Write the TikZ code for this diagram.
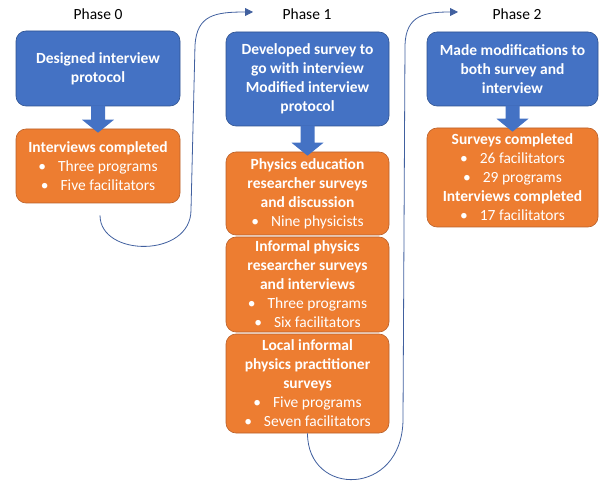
\documentclass[tikz,border=0pt]{standalone}
\usepackage{fontspec}
\setmainfont{Carlito}
\usetikzlibrary{calc,arrows.meta}

\definecolor{stepblue}{HTML}{4472C4}
\definecolor{stepblueedge}{HTML}{2F528F}
\definecolor{steporange}{HTML}{ED7D31}
\definecolor{steporangeedge}{HTML}{B9602A}
\definecolor{flowline}{HTML}{41609F}

\tikzset{
  box/.style={rectangle, rounded corners=10pt, inner sep=0pt, align=center,
    text=white, font=\fontsize{15.5}{19}\selectfont\bfseries, line width=0.6pt},
  planbox/.style={box, fill=stepblue, draw=stepblueedge},
  resultbox/.style={box, fill=steporange, draw=steporangeedge},
  phaselabel/.style={inner sep=0pt, font=\fontsize{15.5}{19}\selectfont},
  flow/.style={draw=flowline, line width=0.8pt, -{Triangle[length=8pt,width=8pt]}},
  blockfill/.style={fill=stepblue}
}

% downward block arrow from the bottom of #1 into the top of #2
\newcommand\blockarrow[2]{%
  \fill[blockfill] ($(#1.south)+(-7,-1)$) -- ($(#2.north)+(-7,-9)$)
    -- ($(#2.north)+(-16,-9)$) -- ($(#2.north)+(0,4)$)
    -- ($(#2.north)+(16,-9)$) -- ($(#2.north)+(7,-9)$)
    -- ($(#1.south)+(7,-1)$) -- cycle;}

\newcommand\itm[1]{{\mdseries\textbullet\hspace{12pt}#1}}

\begin{document}
\begin{tikzpicture}[x=1pt,y=-1pt]
\useasboundingbox (0,0) rectangle (600,481);

% phase headings
\node[phaselabel] (ph0) at (98,14) {Phase 0};
\node[phaselabel] (ph1) at (307,14) {Phase 1};
\node[phaselabel] (ph2) at (517,14) {Phase 2};

% phase 0
\node[planbox, minimum width=164pt, minimum height=75pt] (p0) at (98,68.5)
  {Designed interview\\protocol};
\node[resultbox, minimum width=164pt, minimum height=74pt] (r0) at (98,166)
  {Interviews completed\\\itm{Three programs}\\\itm{Five facilitators}};

% phase 1
\node[planbox, minimum width=163pt, minimum height=94pt] (p1) at (307.5,79)
  {Developed survey to\\go with interview\\Modified interview\\protocol};
\node[resultbox, minimum width=163pt, minimum height=83pt] (r1a) at (307.5,193.5)
  {Physics education\\researcher surveys\\and discussion\\\itm{Nine physicists}};
\node[resultbox, minimum width=163pt, minimum height=95pt] (r1b) at (307.5,284.5)
  {Informal physics\\researcher surveys\\and interviews\\\itm{Three programs}\\\itm{Six facilitators}};
\node[resultbox, minimum width=163pt, minimum height=99pt] (r1c) at (307.5,383.5)
  {Local informal\\physics practitioner\\surveys\\\itm{Five programs}\\\itm{Seven facilitators}};

% phase 2
\node[planbox, minimum width=171pt, minimum height=74pt] (p2) at (512.5,69)
  {Made modifications to\\both survey and\\interview};
\node[resultbox, minimum width=171pt, minimum height=99pt] (r2) at (512.5,177.5)
  {Surveys completed\\\itm{26 facilitators}\\\itm{29 programs}\\Interviews completed\\\itm{17 facilitators}};

% block arrows inside each phase
\blockarrow{p0}{r0}
\blockarrow{p1}{r1a}
\blockarrow{p2}{r2}

% loops carrying one phase into the next
\coordinate (out0) at ($(r0.south)+(2,12)$);
\coordinate (in1) at (253,12);
\coordinate (out1) at ($(r1c.south)$);
\coordinate (in2) at (458,12);

\draw[flow] (out0) .. controls +(0,42) and (191,258) .. (191,210)
  -- (195,45) .. controls (197,15) and (215,12) .. (in1);
\draw[flow] (out1) .. controls +(0,64) and (402,497) .. (403,420)
  -- (405,45) .. controls (406,15) and (425,12) .. (in2);
\end{tikzpicture}
\end{document}
